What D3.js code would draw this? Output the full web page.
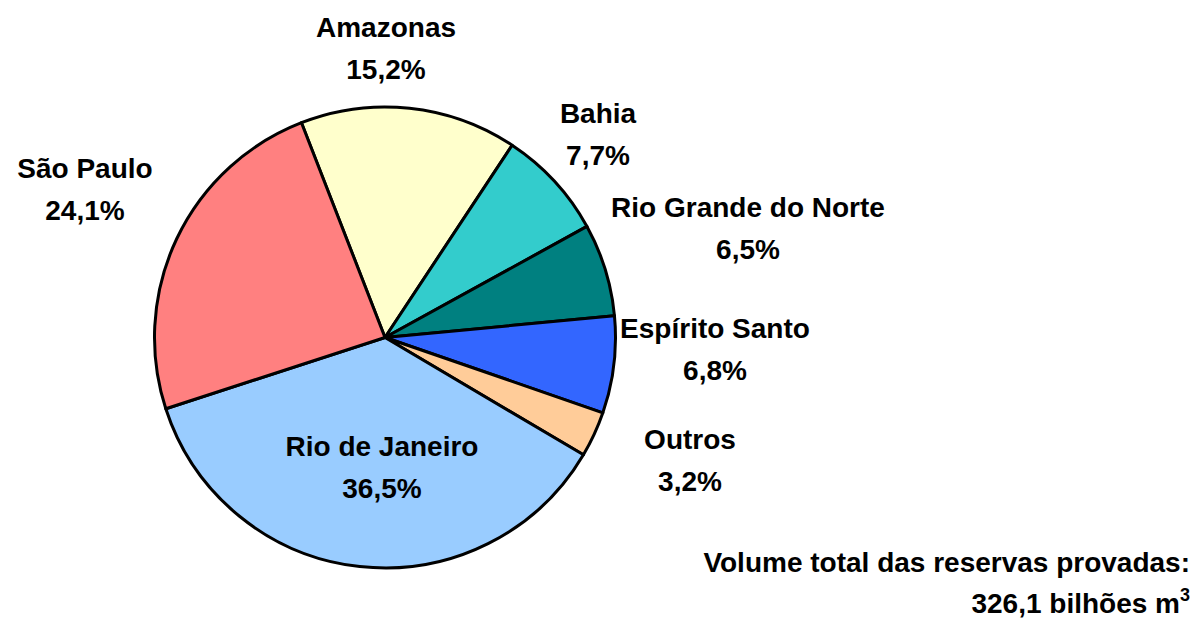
<!DOCTYPE html>
<html lang="pt">
<head>
<meta charset="UTF-8">
<title>Reservas provadas de gás natural</title>
<script src="https://d3js.org/d3.v7.min.js"></script>
<style>
    body { margin: 0; background: #fff; }
    text { font-family: "Liberation Sans", Arial, sans-serif; font-weight: bold; fill: #000; }
</style>
</head>
<body>
<script>
// data (clockwise from the top, starting with Amazonas)
const states = ["Amazonas", "Bahia", "Rio Grande do Norte", "Espírito Santo", "Outros", "Rio de Janeiro", "São Paulo"];
const shares = [15.2, 7.7, 6.5, 6.8, 3.2, 36.5, 24.1];
const colors = ["#FFFFCC", "#33CCCC", "#008080", "#3366FF", "#FFCC99", "#99CCFF", "#FF8080"];
const totalLines = ["Volume total das reservas provadas:", "326,1 bilhões m"];

// label offsets from pie centre (name baseline, text centred)
const labelOffset = [[1, -301], [213, -215], [363, -121], [330, 0], [305, 111], [-3, 118], [-300, -160]];

const width = 1195, height = 623;
const cx = 385, cy = 337.5, radius = 230.5;

const svg = d3.select("body").append("svg")
    .attr("width", width)
    .attr("height", height);

const pie = d3.pie()
    .sort(null)
    .value(d => d.value)
    .startAngle(-21.25 * Math.PI / 180)
    .endAngle(-21.25 * Math.PI / 180 + 2 * Math.PI);

const arc = d3.arc().innerRadius(0).outerRadius(radius);

const data = states.map((s, i) => ({ name: s, value: shares[i], color: colors[i], off: labelOffset[i] }));

const g = svg.append("g").attr("transform", `translate(${cx},${cy})`);

g.selectAll("path.slice")
    .data(pie(data))
    .enter()
    .append("path")
    .attr("class", "slice")
    .attr("d", arc)
    .attr("fill", d => d.data.color)
    .attr("stroke", "#000")
    .attr("stroke-width", 3)
    .attr("stroke-linejoin", "round");

const fmt = v => d3.format(".1f")(v).replace(".", ",") + "%";

const labels = g.selectAll("g.label")
    .data(data)
    .enter()
    .append("g")
    .attr("class", "label")
    .attr("transform", d => `translate(${d.off[0]},${d.off[1]})`);

labels.append("text")
    .attr("text-anchor", "middle")
    .attr("font-size", 28)
    .text(d => d.name);

labels.append("text")
    .attr("text-anchor", "middle")
    .attr("font-size", 28)
    .attr("y", 42)
    .text(d => fmt(d.value));

// total volume note, bottom right
svg.append("text")
    .attr("x", 1190)
    .attr("y", 572)
    .attr("text-anchor", "end")
    .attr("font-size", 28)
    .text(totalLines[0]);

const t2 = svg.append("text")
    .attr("x", 1190)
    .attr("y", 613)
    .attr("text-anchor", "end")
    .attr("font-size", 28)
    .text(totalLines[1]);
t2.append("tspan")
    .attr("font-size", 18)
    .attr("dy", -12)
    .text("3");
</script>
</body>
</html>
